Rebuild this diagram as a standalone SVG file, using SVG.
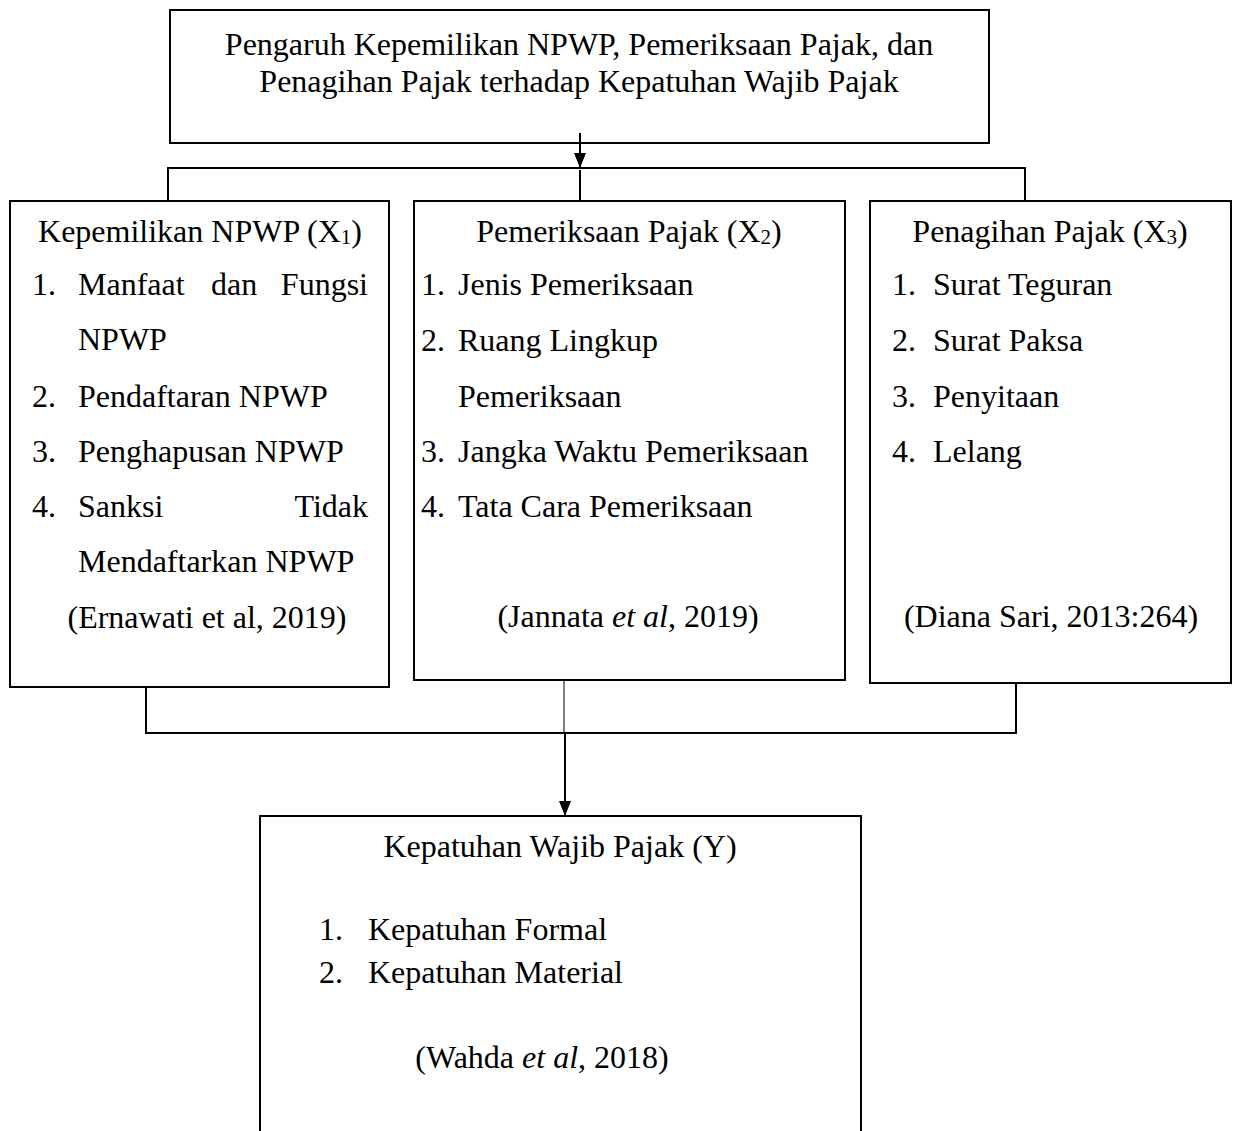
<svg xmlns="http://www.w3.org/2000/svg" width="1234" height="1131" viewBox="0 0 1234 1131">
<defs>
<marker id="arr" viewBox="0 0 15 12" refX="15" refY="6" markerWidth="15" markerHeight="12" markerUnits="userSpaceOnUse" orient="auto">
<path d="M0,0 L15,6 L0,12 Z" fill="#000"/>
</marker>
<style>
text{font-family:"Liberation Serif","Times New Roman",serif;font-size:32px;fill:#000}
.c{text-anchor:middle}
.e{text-anchor:end}
.box{fill:#fff;stroke:#000;stroke-width:2}
.ln{fill:none;stroke:#000;stroke-width:2}
.thin{fill:none;stroke:#000;stroke-width:1}
.sub{font-size:21px}
</style>
</defs>
<rect width="1234" height="1131" fill="#fff"/>

<g id="title">
<rect class="box" x="170" y="10" width="819" height="133"/>
<text class="c" x="579" y="55">Pengaruh Kepemilikan NPWP, Pemeriksaan Pajak, dan</text>
<text class="c" x="579" y="92">Penagihan Pajak terhadap Kepatuhan Wajib Pajak</text>
</g>

<g id="x1">
<rect class="box" x="10" y="201" width="379" height="486"/>
<text class="c" x="200" y="242">Kepemilikan NPWP (X<tspan class="sub" dy="2">1</tspan><tspan dy="-2">)</tspan></text>
<text x="32" y="295">1.</text>
<text x="78" y="295">Manfaat</text>
<text x="211" y="295">dan</text>
<text class="e" x="368" y="295">Fungsi</text>
<text x="78" y="350">NPWP</text>
<text x="32" y="407">2.</text>
<text x="78" y="407">Pendaftaran NPWP</text>
<text x="32" y="462">3.</text>
<text x="78" y="462">Penghapusan NPWP</text>
<text x="32" y="517">4.</text>
<text x="78" y="517">Sanksi</text>
<text class="e" x="368" y="517">Tidak</text>
<text x="78" y="572">Mendaftarkan NPWP</text>
<text class="c" x="207" y="628">(Ernawati et al, 2019)</text>
</g>

<g id="x2">
<rect class="box" x="414" y="201" width="431" height="479"/>
<text class="c" x="629" y="242">Pemeriksaan Pajak (X<tspan class="sub" dy="2">2</tspan><tspan dy="-2">)</tspan></text>
<text x="421" y="295">1.</text>
<text x="458" y="295">Jenis Pemeriksaan</text>
<text x="421" y="351">2.</text>
<text x="458" y="351">Ruang Lingkup</text>
<text x="458" y="407">Pemeriksaan</text>
<text x="421" y="462">3.</text>
<text x="458" y="462">Jangka Waktu Pemeriksaan</text>
<text x="421" y="517">4.</text>
<text x="458" y="517">Tata Cara Pemeriksaan</text>
<text class="c" x="628" y="627">(Jannata <tspan font-style="italic">et al</tspan>, 2019)</text>
</g>

<g id="x3">
<rect class="box" x="870" y="201" width="361" height="482"/>
<text class="c" x="1050" y="242">Penagihan Pajak (X<tspan class="sub" dy="2">3</tspan><tspan dy="-2">)</tspan></text>
<text x="892" y="295">1.</text>
<text x="933" y="295">Surat Teguran</text>
<text x="892" y="351">2.</text>
<text x="933" y="351">Surat Paksa</text>
<text x="892" y="407">3.</text>
<text x="933" y="407">Penyitaan</text>
<text x="892" y="462">4.</text>
<text x="933" y="462">Lelang</text>
<text class="c" x="1051" y="627">(Diana Sari, 2013:264)</text>
</g>

<g id="y">
<rect class="box" x="260" y="816" width="601" height="340"/>
<text class="c" x="560" y="857">Kepatuhan Wajib Pajak (Y)</text>
<text x="319" y="940">1.</text>
<text x="368" y="940">Kepatuhan Formal</text>
<text x="319" y="983">2.</text>
<text x="368" y="983">Kepatuhan Material</text>
<text class="c" x="542" y="1068">(Wahda <tspan font-style="italic">et al</tspan>, 2018)</text>
</g>

<g id="connectors">
<path class="ln" d="M168,201 V168 H1025 V201"/>
<path class="ln" d="M580,170 V201"/>
<path class="ln" d="M580,133 V168" marker-end="url(#arr)"/>
<path class="ln" d="M146,687 V733 H1016 V683"/>
<path class="thin" d="M564,680 V733"/>
<path class="ln" d="M565,733 V816" marker-end="url(#arr)"/>
</g>
</svg>
